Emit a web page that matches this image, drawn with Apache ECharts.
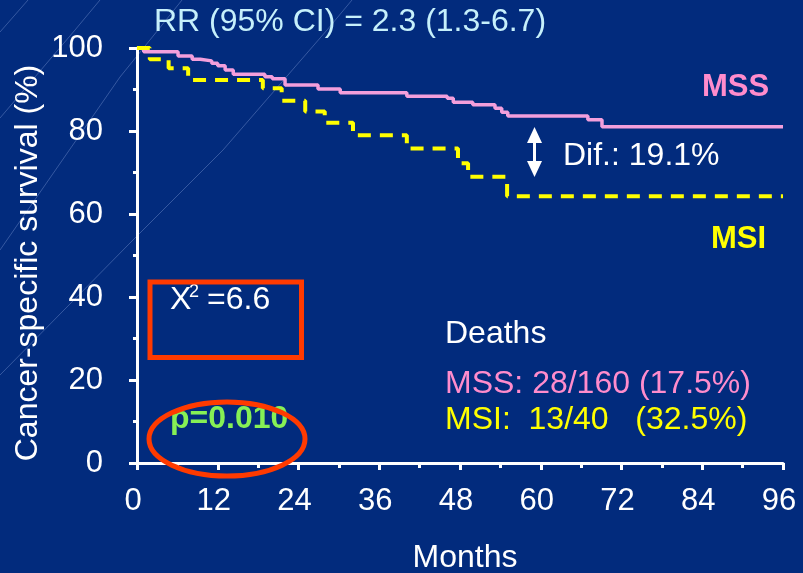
<!DOCTYPE html>
<html>
<head>
<meta charset="utf-8">
<script src="https://cdn.jsdelivr.net/npm/echarts@6/dist/echarts.min.js"></script>
<style>
html,body{margin:0;padding:0;background:#022b7d;}
#c{width:803px;height:573px;}
</style>
</head>
<body>
<div id="c"></div>
<script>
// ---- data ----
const xTickLabels = ['0','12','24','36','48','60','72','84','96'];
const yTickLabels = ['0','20','40','60','80','100'];

const mssMonths   = [0, 1.0, 6.1, 8.2, 9.4, 11.1, 12.0, 13.1, 14.3, 19.0, 20.1, 22.0, 26.9, 30.2, 40.1, 46.1, 47.0, 49.9, 53.2, 54.2, 55.1, 67.0, 69.1, 96];
const mssSurvival = [100, 99.1, 98.1, 97.3, 96.9, 96.3, 95.7, 94.7, 93.7, 93.1, 92.6, 91.1, 90.1, 89.2, 88.4, 87.9, 86.9, 86.3, 85.5, 84.5, 83.6, 82.7, 81.0, 81.0];

const msiMonths   = [0, 1.9, 4.7, 7.6, 18.7, 21.5, 25.0, 27.9, 32.1, 40.1, 47.7, 49.2, 55.0, 96];
const msiSurvival = [100, 97.3, 95.1, 92.3, 90.3, 87.3, 84.7, 82.0, 79.0, 75.8, 72.2, 69.0, 64.3, 64.3];

const titleText  = 'RR (95% CI) = 2.3 (1.3-6.7)';
const xAxisTitle = 'Months';
const yAxisTitle = 'Cancer-specific survival (%)';
const diffText   = 'Dif.: 19.1%';
const deathsHead = 'Deaths';
const mssDeaths  = 'MSS: 28/160 (17.5%)';
const msiDeaths  = 'MSI:  13/40   (32.5%)';
const chiText    = '=6.6';
const pText      = 'p=0.010';

// ---- styles ----
const FONT = '"Liberation Sans", Arial, Helvetica, sans-serif';
const PINK_LINE = '#f39fdc';
const PINK_TEXT = '#ff8ccc';
const YELLOW = '#ffff00';
const RED = '#ff3a00';
const GREEN = '#86f055';
const CYAN = '#c6f0fb';

const zip = (a, b) => a.map((v, i) => [v, b[i]]);

const chart = echarts.init(document.getElementById('c'), null, {renderer: 'canvas'});

function txt(x, y, text, opts) {
  return {
    type: 'text', x: x, y: y, z: 50,
    style: Object.assign({
      text: text, fill: '#ffffff', font: '32px ' + FONT,
      textAlign: 'left', textVerticalAlign: 'middle'
    }, opts || {})
  };
}

const bgLineStyle = {stroke: 'rgba(190,210,255,0.28)', lineWidth: 1, fill: null};

const option = {
  backgroundColor: '#022b7d',
  animation: false,
  grid: {left: 137, right: 20, top: 48, bottom: 110, containLabel: false, outerBoundsMode: 'none'},
  xAxis: {
    type: 'value', min: 0, max: 96, interval: 12,
    axisLine: {show: true, onZero: false, lineStyle: {color: '#fff', width: 3}},
    axisTick: {show: true, length: 7, lineStyle: {color: '#fff', width: 3}},
    minorTick: {show: true, splitNumber: 2, length: 5, lineStyle: {color: '#fff', width: 3}},
    splitLine: {show: false},
    axisLabel: {
      color: '#fff', fontSize: 31, fontFamily: FONT, margin: 23, padding: [0, 8, 0, 0],
      formatter: v => xTickLabels[Math.round(v / 12)]
    }
  },
  yAxis: {
    type: 'value', min: 0, max: 100, interval: 20,
    axisLine: {show: true, lineStyle: {color: '#fff', width: 3}},
    axisTick: {show: true, length: 8, lineStyle: {color: '#fff', width: 3}},
    minorTick: {show: true, splitNumber: 2, length: 4, lineStyle: {color: '#fff', width: 3}},
    splitLine: {show: false},
    axisLabel: {
      color: '#fff', fontSize: 31, fontFamily: FONT, margin: 34,
      formatter: v => yTickLabels[Math.round(v / 20)]
    }
  },
  series: [
    {
      name: 'MSS', type: 'line', step: 'end', symbol: 'none', z: 3,
      data: zip(mssMonths, mssSurvival),
      lineStyle: {color: PINK_LINE, width: 3.5}
    },
    {
      name: 'MSI', type: 'line', step: 'end', symbol: 'none', z: 4,
      data: zip(msiMonths, msiSurvival),
      lineStyle: {color: YELLOW, width: 4, type: [13, 9], cap: 'butt'}
    }
  ],
  graphic: [
    // faint decorative background lines
    {type: 'polyline', z: -10, silent: true, shape: {points: [[0,118],[75,30],[100,0]]}, style: bgLineStyle},
    {type: 'polyline', z: -10, silent: true, shape: {points: [[0,250],[120,77],[158,30],[182,0]]}, style: bgLineStyle},
    {type: 'polyline', z: -10, silent: true, shape: {points: [[0,375],[130,243],[223,150],[327,30],[352,0]]}, style: bgLineStyle},
    {type: 'polyline', z: -10, silent: true, shape: {points: [[0,32],[28,0]]}, style: bgLineStyle},

    // title
    txt(350, 22, titleText, {fill: CYAN, textAlign: 'center'}),
    // axis titles
    txt(465, 558, xAxisTitle, {textAlign: 'center'}),
    {type: 'text', x: 28, y: 263, rotation: Math.PI / 2, z: 50,
     style: {text: yAxisTitle, fill: '#fff', font: '32px ' + FONT, textAlign: 'center', textVerticalAlign: 'middle'}},

    // group labels
    txt(702, 87, 'MSS', {fill: PINK_TEXT, font: 'bold 31px ' + FONT}),
    txt(711, 239, 'MSI', {fill: YELLOW, font: 'bold 31px ' + FONT}),

    // difference arrow + text
    {type: 'line', z: 50, shape: {x1: 534.5, y1: 140, x2: 534.5, y2: 164}, style: {stroke: '#fff', lineWidth: 3}},
    {type: 'polygon', z: 50, shape: {points: [[527,143],[542,143],[534.5,127]]}, style: {fill: '#fff'}},
    {type: 'polygon', z: 50, shape: {points: [[527,161],[542,161],[534.5,177]]}, style: {fill: '#fff'}},
    txt(563, 156, diffText),

    // deaths block
    txt(445, 334, deathsHead),
    txt(445, 384, mssDeaths, {fill: PINK_TEXT}),
    txt(445, 420, msiDeaths, {fill: YELLOW}),

    // chi-square box
    {type: 'rect', z: 60, shape: {x: 150, y: 282, width: 151.5, height: 75.5}, style: {fill: null, stroke: RED, lineWidth: 5}},
    txt(170, 300, 'X'),
    txt(189, 292, '2', {font: '18px ' + FONT}),
    txt(207, 300, chiText),

    // p value + ellipse
    txt(170, 419, pText, {fill: GREEN, font: 'bold 32px ' + FONT}),
    {type: 'ellipse', z: 60, shape: {cx: 227, cy: 439, rx: 78, ry: 37}, style: {fill: null, stroke: RED, lineWidth: 5}}
  ]
};

chart.setOption(option);
</script>
</body>
</html>
